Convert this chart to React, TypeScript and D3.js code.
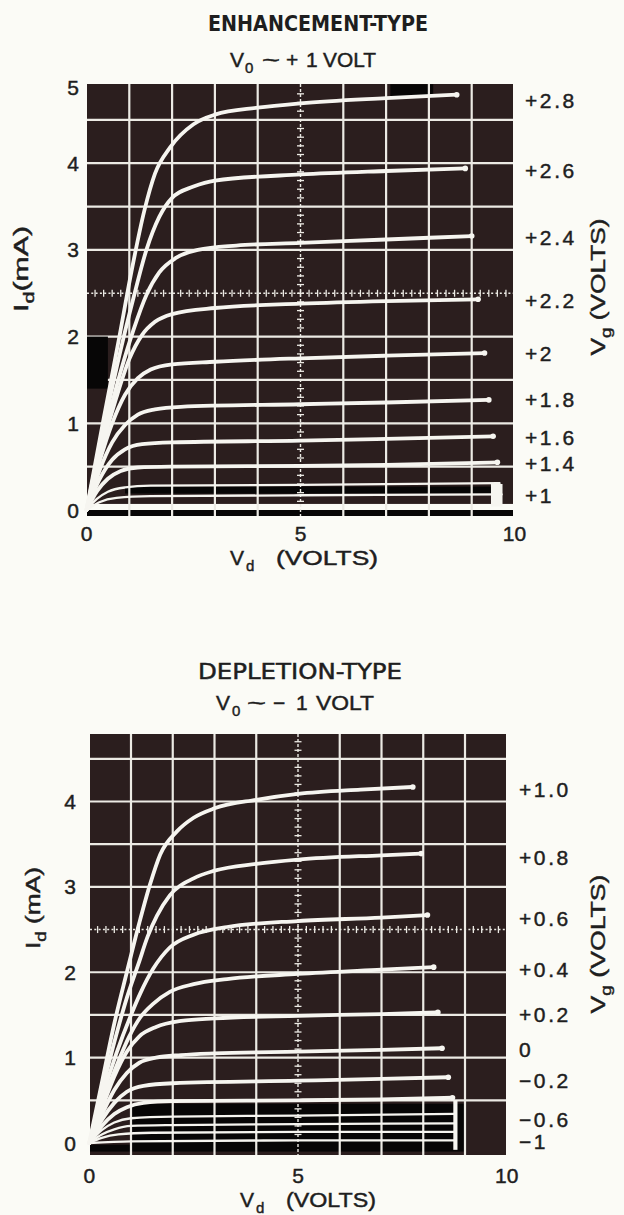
import React from "react";
import * as d3 from "d3";

type Pt = [number, number];
interface Curve { vg: number; pts: Pt[] }
interface VgLabel { text: string; id: number }

// ---------- DATA ----------
const vdTicks = [0, 5, 10];
const enhIdTicks = [0, 1, 2, 3, 4, 5];
const depIdTicks = [0, 1, 2, 3, 4];

const enhCurves: Curve[] = [
  { vg: 2.8, pts: [[0, 0], [0.4, 1.05], [0.75, 1.95], [1.05, 2.75], [1.35, 3.45], [1.6, 3.88], [1.95, 4.18], [2.5, 4.45], [3, 4.56], [4, 4.64], [5, 4.69], [7, 4.75], [8.65, 4.79]] },
  { vg: 2.6, pts: [[0, 0], [0.4, 0.95], [0.8, 1.85], [1.1, 2.45], [1.4, 3.0], [1.7, 3.38], [2, 3.6], [2.5, 3.73], [3, 3.8], [5, 3.87], [7, 3.91], [8.85, 3.94]] },
  { vg: 2.4, pts: [[0, 0], [0.4, 0.85], [0.8, 1.6], [1.1, 2.08], [1.4, 2.48], [1.7, 2.74], [2.1, 2.91], [2.6, 3.0], [3.5, 3.05], [5, 3.08], [7, 3.12], [9.0, 3.16]] },
  { vg: 2.2, pts: [[0, 0], [0.35, 0.7], [0.7, 1.3], [1.0, 1.74], [1.3, 2.02], [1.6, 2.17], [2, 2.26], [3, 2.33], [5, 2.38], [7, 2.41], [9.15, 2.43]] },
  { vg: 2.0, pts: [[0, 0], [0.3, 0.55], [0.6, 1.0], [0.9, 1.33], [1.2, 1.52], [1.5, 1.62], [2, 1.68], [3, 1.71], [5, 1.75], [7, 1.78], [9.3, 1.81]] },
  { vg: 1.8, pts: [[0, 0], [0.3, 0.45], [0.6, 0.78], [0.9, 0.98], [1.2, 1.1], [1.6, 1.16], [2.2, 1.19], [5, 1.22], [7, 1.24], [9.4, 1.27]] },
  { vg: 1.6, pts: [[0, 0], [0.3, 0.35], [0.6, 0.58], [0.9, 0.7], [1.3, 0.76], [2, 0.78], [5, 0.8], [7, 0.82], [9.5, 0.85]] },
  { vg: 1.4, pts: [[0, 0], [0.25, 0.22], [0.5, 0.36], [0.8, 0.45], [1.2, 0.49], [2, 0.5], [5, 0.51], [7, 0.52], [9.6, 0.55]] },
  { vg: 1.2, pts: [[0, 0], [0.25, 0.13], [0.5, 0.21], [0.9, 0.26], [1.5, 0.28], [5, 0.29], [9.65, 0.31]] },
  { vg: 1.0, pts: [[0, 0], [0.3, 0.09], [0.7, 0.14], [1.5, 0.16], [5, 0.17], [9.7, 0.18]] },
];

const enhVgLabels: VgLabel[] = [
  { text: "+2.8", id: 4.72 }, { text: "+2.6", id: 3.92 }, { text: "+2.4", id: 3.14 },
  { text: "+2.2", id: 2.42 }, { text: "+2", id: 1.81 }, { text: "+1.8", id: 1.27 },
  { text: "+1.6", id: 0.84 }, { text: "+1.4", id: 0.54 }, { text: "+1", id: 0.17 },
];

const depCurves: Curve[] = [
  { vg: 1.0, pts: [[0, 0], [0.3, 0.7], [0.6, 1.4], [0.9, 2.0], [1.2, 2.58], [1.45, 3.02], [1.7, 3.38], [2.1, 3.65], [2.5, 3.81], [3, 3.92], [4, 4.02], [5, 4.09], [6.5, 4.14], [7.75, 4.17]] },
  { vg: 0.8, pts: [[0, 0], [0.3, 0.6], [0.6, 1.18], [0.9, 1.7], [1.18, 2.1], [1.4, 2.42], [1.62, 2.66], [1.93, 2.9], [2.5, 3.1], [3, 3.19], [4, 3.27], [5, 3.32], [7, 3.37], [7.95, 3.39]] },
  { vg: 0.6, pts: [[0, 0], [0.3, 0.52], [0.65, 1.05], [1.0, 1.5], [1.22, 1.75], [1.53, 2.04], [1.93, 2.29], [2.5, 2.44], [3.3, 2.53], [5, 2.6], [7, 2.64], [8.1, 2.67]] },
  { vg: 0.4, pts: [[0, 0], [0.3, 0.45], [0.65, 0.9], [0.95, 1.24], [1.22, 1.47], [1.53, 1.63], [1.93, 1.77], [2.5, 1.86], [3.3, 1.92], [5, 1.98], [7, 2.03], [8.25, 2.06]] },
  { vg: 0.2, pts: [[0, 0], [0.3, 0.4], [0.6, 0.78], [0.9, 1.07], [1.2, 1.25], [1.6, 1.36], [2.2, 1.43], [3, 1.46], [5, 1.49], [7, 1.51], [8.35, 1.53]] },
  { vg: 0, pts: [[0, 0], [0.3, 0.33], [0.6, 0.62], [0.9, 0.82], [1.2, 0.94], [1.6, 1.0], [2.2, 1.03], [3, 1.05], [5, 1.07], [7, 1.09], [8.45, 1.11]] },
  { vg: -0.2, pts: [[0, 0], [0.3, 0.27], [0.6, 0.47], [0.9, 0.6], [1.3, 0.67], [2, 0.7], [5, 0.73], [7, 0.75], [8.6, 0.77]] },
  { vg: -0.4, pts: [[0, 0], [0.3, 0.2], [0.6, 0.34], [0.9, 0.42], [1.3, 0.47], [2, 0.49], [5, 0.5], [7, 0.51], [8.7, 0.53]] },
  { vg: -0.6, pts: [[0, 0], [0.3, 0.15], [0.6, 0.24], [1, 0.29], [2, 0.31], [5, 0.32], [8.75, 0.34]] },
  { vg: -0.7, pts: [[0, 0], [0.3, 0.1], [0.6, 0.16], [1, 0.2], [2, 0.21], [5, 0.22], [8.75, 0.23]] },
  { vg: -0.8, pts: [[0, 0], [0.3, 0.06], [0.7, 0.1], [1.5, 0.12], [5, 0.13], [8.75, 0.13]] },
  { vg: -1.0, pts: [[0, 0], [1, 0.02], [5, 0.03], [8.75, 0.03]] },
];

const depVgLabels: VgLabel[] = [
  { text: "+1.0", id: 4.14 }, { text: "+0.8", id: 3.35 }, { text: "+0.6", id: 2.63 },
  { text: "+0.4", id: 2.03 }, { text: "+0.2", id: 1.5 }, { text: "0", id: 1.1 },
  { text: "\u22120.2", id: 0.73 }, { text: "\u22120.6", id: 0.28 }, { text: "\u22121", id: 0.02 },
];

// ---------- STYLE ----------
const PAGE = "#fbfbf6";
const SCREEN = "#2b1e1e";
const BLACK = "#070606";
const TRACE = "#f6f5f0";
const GRID = "#eceae4";
const INK = "#1e1e1e";
const SANS = "'Liberation Sans', Arial, Helvetica, sans-serif";
const NARROW = "'Liberation Sans Narrow', 'DejaVu Sans Condensed', 'Liberation Sans', sans-serif";
const INK_STROKE = 0.45;

interface Decor { vd: [number, number]; id: [number, number]; fill: string; over?: boolean }
interface Part { t: string; x: number; sub?: boolean; w?: number }

interface Layout {
  xRange: [number, number];
  idMax: number;
  yRange: [number, number];
  screen: { x0: number; x1: number; top: number; bottom: number };
  decor: Decor[];
  title: { text: string; x0: number; x1: number; base: number; weight: number; size: number };
  sub: { parts: Part[]; base: number };
  xTitle: { parts: Part[]; base: number };
  yTitle: { bx: number; cy: number; len: number; main: string; sub: string; rest: string };
  vgTitle: { bx: number; cy: number; len: number };
  yTickX: number;
  xTickY: number;
  vgLabelX: number;
}

const enhLayout: Layout = {
  xRange: [86.5, 514.5],
  idMax: 5,
  yRange: [510, 76.5],
  screen: { x0: 87, x1: 513, top: 84, bottom: 516 },
  decor: [
    { vd: [0, 9.97], id: [0, 0.07], fill: PAGE },
    { vd: [0, 9.97], id: [-0.07, 0], fill: BLACK },
    { vd: [0, 0.5], id: [1.4, 2.0], fill: BLACK },
    { vd: [7.1, 8.1], id: [4.76, 4.91], fill: BLACK },
    { vd: [0.9, 9.65], id: [0.19, 0.27], fill: BLACK },
    { vd: [9.45, 9.72], id: [0.04, 0.3], fill: TRACE, over: true },
  ],
  title: { text: "ENHANCEMENT-TYPE", x0: 208, x1: 428, base: 31, weight: 700, size: 22 },
  sub: {
    base: 67,
    parts: [
      { t: "V", x: 230 }, { t: "0", x: 245, sub: true }, { t: "~", x: 262, w: 18 },
      { t: "+", x: 286 }, { t: "1", x: 306 }, { t: "VOLT", x: 323, w: 53 },
    ],
  },
  xTitle: {
    base: 565,
    parts: [{ t: "V", x: 230 }, { t: "d", x: 246, sub: true }, { t: "(VOLTS)", x: 276, w: 102 }],
  },
  yTitle: { bx: 28, cy: 269, len: 86, main: "I", sub: "d", rest: "(mA)" },
  vgTitle: { bx: 605, cy: 287, len: 137 },
  yTickX: 73,
  xTickY: 533,
  vgLabelX: 525,
};

const depLayout: Layout = {
  xRange: [89.25, 506.75],
  idMax: 4,
  yRange: [1143, 801.5],
  screen: { x0: 90, x1: 506, top: 734, bottom: 1155 },
  decor: [
    { vd: [1.0, 9.0], id: [-0.1, 0.46], fill: BLACK },
    { vd: [0, 1.0], id: [-0.1, -0.02], fill: BLACK },
    { vd: [8.72, 8.82], id: [-0.08, 0.5], fill: TRACE, over: true },
  ],
  title: { text: "DEPLETION-TYPE", x0: 198, x1: 402, base: 679, weight: 400, size: 21 },
  sub: {
    base: 710,
    parts: [
      { t: "V", x: 216 }, { t: "0", x: 232, sub: true }, { t: "~", x: 247, w: 19 },
      { t: "\u2212", x: 273 }, { t: "1", x: 296 }, { t: "VOLT", x: 316, w: 58 },
    ],
  },
  xTitle: {
    base: 1207,
    parts: [{ t: "V", x: 240 }, { t: "d", x: 256, sub: true }, { t: "(VOLTS)", x: 286, w: 90 }],
  },
  yTitle: { bx: 40, cy: 908, len: 82, main: "I", sub: "d", rest: " (mA)" },
  vgTitle: { bx: 605, cy: 944, len: 139 },
  yTickX: 70,
  xTickY: 1175,
  vgLabelX: 519,
};

function PartsText({ parts, base }: { parts: Part[]; base: number }) {
  return (
    <g fill={INK} stroke={INK} strokeWidth={INK_STROKE} fontFamily={SANS}>
      {parts.map((p, i) => (
        <text
          key={i}
          x={p.x}
          y={p.sub ? base + 6 : base}
          fontSize={p.sub ? 15 : 21}
          textLength={p.w}
          lengthAdjust={p.w ? "spacingAndGlyphs" : undefined}
        >
          {p.t}
        </text>
      ))}
    </g>
  );
}

function Panel({ L, curves, vgLabels, idTicks }: { L: Layout; curves: Curve[]; vgLabels: VgLabel[]; idTicks: number[] }) {
  const x = d3.scaleLinear().domain([0, 10]).range(L.xRange);
  const y = d3.scaleLinear().domain([0, L.idMax]).range(L.yRange);
  const line = d3
    .line<Pt>()
    .x((d) => x(d[0]))
    .y((d) => y(d[1]))
    .curve(d3.curveMonotoneX);
  const S = L.screen;
  const idTop = y.invert(S.top);

  const vGrid = d3.range(1, 10).filter((v) => v !== 5);
  const hGrid = d3.range(0.5, idTop, 0.5).filter((v) => Math.abs(v - 2.5) > 1e-6);
  const vTicks = d3.range(0.1, idTop - 0.02, 0.1);
  const hTicks = d3.range(0.2, 9.9, 0.2);

  const decorRect = (d: Decor, i: number) => {
    const xa = Math.max(S.x0, x(d.vd[0]));
    const xb = Math.min(S.x1, x(d.vd[1]));
    const ya = Math.max(S.top, y(d.id[1]));
    const yb = Math.min(S.bottom, y(d.id[0]));
    return <rect key={i} x={xa} y={ya} width={xb - xa} height={yb - ya} fill={d.fill} />;
  };

  return (
    <g>
      <rect x={S.x0} y={S.top} width={S.x1 - S.x0} height={S.bottom - S.top} fill={SCREEN} />
      {hGrid.map((v) => (
        <line key={"h" + v} x1={S.x0} x2={S.x1} y1={y(v)} y2={y(v)} stroke={GRID} strokeWidth={2.2} />
      ))}
      {L.decor.filter((d) => !d.over).map(decorRect)}
      {vGrid.map((v) => (
        <line key={"v" + v} x1={x(v)} x2={x(v)} y1={S.top} y2={S.bottom} stroke={GRID} strokeWidth={2.2} />
      ))}
      {/* centre graticule lines with minor ticks */}
      <line x1={x(5)} x2={x(5)} y1={S.top} y2={S.bottom} stroke={GRID} strokeWidth={1.4} strokeDasharray="3 2" />
      {vTicks.map((t) => (
        <line key={"vt" + t} x1={x(5) - 3.5} x2={x(5) + 3.5} y1={y(t)} y2={y(t)} stroke={GRID} strokeWidth={1.3} />
      ))}
      <line x1={S.x0} x2={S.x1} y1={y(2.5)} y2={y(2.5)} stroke={GRID} strokeWidth={1.4} strokeDasharray="2 2.3" />
      {hTicks.map((t) => (
        <line key={"ht" + t} x1={x(t)} x2={x(t)} y1={y(2.5) - 3.5} y2={y(2.5) + 3.5} stroke={GRID} strokeWidth={1.3} />
      ))}
      {L.decor.filter((d) => d.over).map(decorRect)}
      {curves.map((c) => {
        const end = c.pts[c.pts.length - 1];
        const thin = end[1] < 0.4;
        return (
          <g key={"c" + c.vg}>
            <path d={line(c.pts) || ""} fill="none" stroke={TRACE} strokeWidth={thin ? 2.3 : 3.8} strokeLinecap="round" strokeLinejoin="round" />
            {!thin && <circle cx={x(end[0])} cy={y(end[1])} r={2.8} fill={TRACE} />}
          </g>
        );
      })}

      {/* axes text */}
      <g fill={INK} stroke={INK} strokeWidth={INK_STROKE} fontFamily={SANS} fontSize={21}>
        {idTicks.map((t) => (
          <text key={"yt" + t} x={L.yTickX} y={Math.max(y(t), S.top + 3)} dy="0.36em" textAnchor="middle">
            {t}
          </text>
        ))}
        {vdTicks.map((t) => (
          <text key={"xt" + t} x={x(t)} y={L.xTickY} dy="0.36em" textAnchor="middle">
            {t}
          </text>
        ))}
        {vgLabels.map((l) => (
          <text key={"vg" + l.text} x={L.vgLabelX} y={y(l.id)} dy="0.36em" letterSpacing={2.6}>
            {l.text}
          </text>
        ))}
      </g>

      <text
        x={L.title.x0}
        y={L.title.base}
        fill={INK}
        fontFamily={NARROW}
        fontWeight={L.title.weight}
        fontSize={L.title.size}
        stroke={L.title.weight < 600 ? INK : "none"}
        strokeWidth={INK_STROKE}
        textLength={L.title.x1 - L.title.x0}
        lengthAdjust="spacingAndGlyphs"
      >
        {L.title.text}
      </text>
      <PartsText parts={L.sub.parts} base={L.sub.base} />
      <PartsText parts={L.xTitle.parts} base={L.xTitle.base} />

      <g transform={`translate(${L.yTitle.bx},${L.yTitle.cy}) rotate(-90)`}>
        <text textAnchor="middle" fill={INK} stroke={INK} strokeWidth={INK_STROKE} fontFamily={SANS} fontSize={21} textLength={L.yTitle.len} lengthAdjust="spacingAndGlyphs">
          <tspan>{L.yTitle.main}</tspan>
          <tspan fontSize={15} dy={6}>{L.yTitle.sub}</tspan>
          <tspan dy={-6}>{L.yTitle.rest}</tspan>
        </text>
      </g>
      <g transform={`translate(${L.vgTitle.bx},${L.vgTitle.cy}) rotate(-90)`}>
        <text textAnchor="middle" fill={INK} stroke={INK} strokeWidth={INK_STROKE} fontFamily={SANS} fontSize={21} textLength={L.vgTitle.len} lengthAdjust="spacingAndGlyphs">
          <tspan>V</tspan>
          <tspan fontSize={15} dy={6}>g</tspan>
          <tspan dy={-6}> (VOLTS)</tspan>
        </text>
      </g>
    </g>
  );
}

export default function App() {
  return (
    <svg
      width={624}
      height={1215}
      viewBox="0 0 624 1215"
      xmlns="http://www.w3.org/2000/svg"
      style={{ position: "absolute", left: 0, top: 0, display: "block" }}
    >
      <rect width={624} height={1215} fill={PAGE} />
      <Panel L={enhLayout} curves={enhCurves} vgLabels={enhVgLabels} idTicks={enhIdTicks} />
      <Panel L={depLayout} curves={depCurves} vgLabels={depVgLabels} idTicks={depIdTicks} />
    </svg>
  );
}
